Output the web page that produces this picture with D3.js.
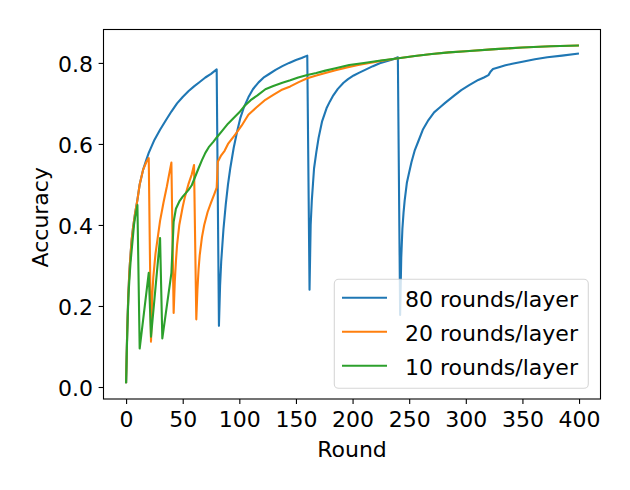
<!DOCTYPE html>
<html><head><meta charset="utf-8">
<script src="https://cdn.jsdelivr.net/npm/d3@7"></script>
<style>body{margin:0;background:#fff}svg{display:block;font-family:"DejaVu Sans",sans-serif}</style>
</head><body>
<script>
// ---- data ----
const seriesNames = ["80 rounds/layer", "20 rounds/layer", "10 rounds/layer"];
const seriesColors = ["#1f77b4", "#ff7f0e", "#2ca02c"];

const roundsA = [0,1,2,3,4,5,6,8,10,12,15,18,20,25,30,35,40,45,50,55,60,65,70,75,80,
  82,83,84,85,86,88,90,92,95,98,101,104,108,112,117,122,126,132,138,144,150,155,160,
  162,163,164,165,166,168,170,173,177,180,183,187,192,196,201,206,212,218,224,230,236,240,
  242,243,244,245,246,248,250,252,255,258,262,267,272,277,282,290,296,303,311,316,320,322,324,330,335,341,350,361,372,385,399];
const accA = [0.012,0.14,0.23,0.29,0.33,0.365,0.39,0.43,0.462,0.50,0.536,0.562,0.578,0.61,0.635,0.658,0.68,0.70,0.716,0.73,0.742,0.753,0.764,0.773,0.784,
  0.151,0.25,0.31,0.35,0.39,0.45,0.50,0.54,0.59,0.63,0.665,0.69,0.715,0.735,0.752,0.765,0.772,0.783,0.792,0.800,0.807,0.812,0.818,
  0.240,0.40,0.46,0.50,0.54,0.58,0.615,0.655,0.688,0.705,0.72,0.736,0.751,0.76,0.769,0.776,0.784,0.792,0.799,0.804,0.809,0.814,
  0.178,0.32,0.39,0.43,0.46,0.505,0.53,0.555,0.585,0.606,0.635,0.659,0.678,0.69,0.702,0.72,0.733,0.745,0.758,0.764,0.770,0.779,0.785,0.790,0.794,0.798,0.803,0.809,0.814,0.818,0.823];

const roundsB = [0,1,2,3,4,5,6,8,10,12,15,18,20,
  22,23,24,26,28,30,33,36,38,40,
  42,43,44,45,47,50,52,55,58,60,
  62,63,64,65,67,69,72,75,78,80,
  81,84,87,90,96,102,108,115,123,130,137,145,152,160,168,176,185,195,205,215,225,239,255,270,285,300,326,350,375,399];
const accB = [0.012,0.14,0.23,0.29,0.33,0.365,0.39,0.43,0.462,0.50,0.536,0.556,0.565,
  0.112,0.22,0.27,0.33,0.37,0.41,0.455,0.495,0.525,0.554,
  0.183,0.26,0.31,0.35,0.40,0.445,0.47,0.50,0.525,0.548,
  0.167,0.24,0.29,0.325,0.37,0.40,0.432,0.455,0.477,0.492,
  0.556,0.572,0.583,0.60,0.622,0.645,0.672,0.69,0.709,0.721,0.733,0.742,0.752,0.762,0.769,0.775,0.782,0.789,0.795,0.80,0.805,0.811,0.817,0.822,0.826,0.829,0.834,0.838,0.841,0.843];

const roundsC = [0,1,2,3,4,5,6,7,8,10,12,20,22,30,32,40,
  42,44,47,50,55,58,61,64,67,70,73,77,80,85,90,95,100,105,110,116,123,130,138,145,152,160,168,176,185,197,210,225,239,255,270,285,300,326,350,375,399];
const accC = [0.012,0.13,0.22,0.27,0.31,0.34,0.37,0.40,0.42,0.449,0.095,0.282,0.124,0.368,0.120,0.281,
  0.408,0.44,0.458,0.47,0.486,0.498,0.519,0.54,0.56,0.578,0.592,0.605,0.616,0.633,0.65,0.664,0.678,0.695,0.708,0.72,0.735,0.743,0.751,0.757,0.764,0.770,0.775,0.781,0.787,0.795,0.80,0.806,0.811,0.817,0.822,0.826,0.829,0.834,0.838,0.841,0.843];

const xTicks = [0,50,100,150,200,250,300,350,400];
const yTicks = [0.0,0.2,0.4,0.6,0.8];

// ---- layout ----
const W = 630, H = 490;
const L = 103.5, R = 600.5, T = 29.5, B = 399;
const FS = 22;

const svg = d3.select("body").append("svg").attr("width", W).attr("height", H);

const x = d3.scaleLinear().domain([-19.95, 418.95]).range([L, R]);
const y = d3.scaleLinear().domain([-0.0296, 0.8825]).range([B, T]);

const series = [
  {name: seriesNames[0], color: seriesColors[0], xs: roundsA, ys: accA},
  {name: seriesNames[1], color: seriesColors[1], xs: roundsB, ys: accB},
  {name: seriesNames[2], color: seriesColors[2], xs: roundsC, ys: accC}
];

const line = d3.line().x(d => x(d[0])).y(d => y(d[1]));
series.forEach(s => {
  svg.append("path")
    .datum(s.xs.map((r, i) => [r, s.ys[i]]))
    .attr("d", line)
    .attr("fill", "none")
    .attr("stroke", s.color)
    .attr("stroke-width", 2.1)
    .attr("stroke-linejoin", "round")
    .attr("stroke-linecap", "square");
});

// axes
const xAxis = d3.axisBottom(x).tickValues(xTicks).tickFormat(d3.format("d")).tickSize(4.9).tickPadding(7);
const yAxis = d3.axisLeft(y).tickValues(yTicks).tickFormat(d3.format(".1f")).tickSize(4.9).tickPadding(5.6);

const gx = svg.append("g").attr("transform", `translate(0,${B})`).call(xAxis);
const gy = svg.append("g").attr("transform", `translate(${L},0)`).call(yAxis);
[gx, gy].forEach(g => {
  g.select(".domain").remove();
  g.selectAll(".tick line").attr("stroke", "#000").attr("stroke-width", 1.1);
  g.selectAll(".tick text").attr("fill", "#000").style("font-size", FS + "px").style("font-family", "DejaVu Sans");
});
gy.selectAll(".tick text").attr("dy", "0.4em");

// frame
svg.append("rect").attr("x", L).attr("y", T).attr("width", R - L).attr("height", B - T)
  .attr("fill", "none").attr("stroke", "#000").attr("stroke-width", 1.1);

// axis labels
svg.append("text").attr("x", (L + R) / 2).attr("y", 456.7).attr("text-anchor", "middle")
  .style("font-size", FS + "px").text("Round");
svg.append("text").attr("transform", `translate(48.3,${(T + B) / 2 + 3}) rotate(-90)`)
  .attr("text-anchor", "middle").style("font-size", FS + "px").text("Accuracy");

// legend
const lg = svg.append("g");
lg.append("rect").attr("x", 334.3).attr("y", 279.3).attr("width", 254).attr("height", 109)
  .attr("rx", 4.4).attr("fill", "#fff").attr("fill-opacity", 0.8)
  .attr("stroke", "#cccccc").attr("stroke-opacity", 0.8).attr("stroke-width", 1.1);
series.forEach((s, i) => {
  const cy = 297.7 + i * 34;
  lg.append("line").attr("x1", 342).attr("x2", 387).attr("y1", cy).attr("y2", cy)
    .attr("stroke", s.color).attr("stroke-width", 2.1);
  lg.append("text").attr("x", 405).attr("y", cy + 9).style("font-size", FS + "px").text(s.name);
});
</script>
</body></html>
